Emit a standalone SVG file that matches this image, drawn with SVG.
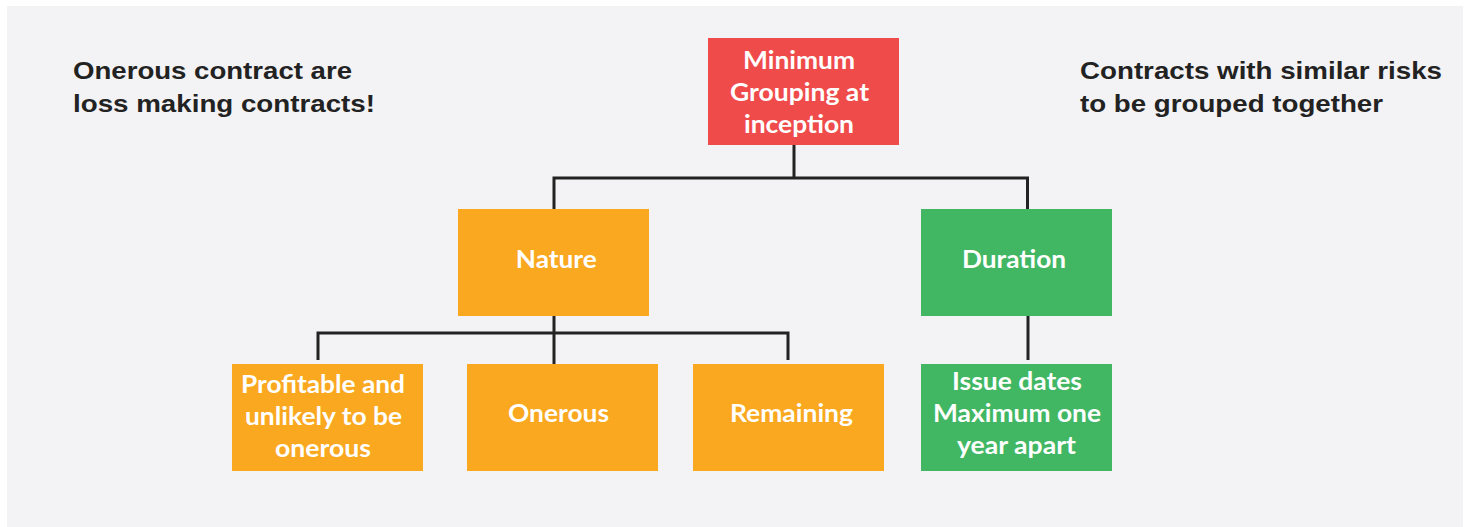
<svg xmlns="http://www.w3.org/2000/svg" width="1472" height="527" viewBox="0 0 1472 527">
<style>
.bx{font-family:Lato,"Open Sans",sans-serif;font-weight:700;font-size:24.5px;fill:#fff;text-anchor:middle}
.side{font-family:"Liberation Sans",Arial,sans-serif;font-weight:700;font-size:24.5px;fill:#222}
.ln{stroke:#222;stroke-width:3;fill:none}
.red{fill:#F04B4B}.org{fill:#FAA820}.grn{fill:#41B764}
</style>
<rect x="0" y="0" width="1472" height="527" fill="#fff"/>
<rect x="7" y="6" width="1456" height="521" fill="#F3F3F5"/>
<text class="side" x="73" y="79" textLength="279" lengthAdjust="spacingAndGlyphs">Onerous contract are</text>
<text class="side" x="73" y="112" textLength="302" lengthAdjust="spacingAndGlyphs">loss making contracts!</text>
<text class="side" x="1080" y="79" textLength="362" lengthAdjust="spacingAndGlyphs">Contracts with similar risks</text>
<text class="side" x="1080" y="112" textLength="303" lengthAdjust="spacingAndGlyphs">to be grouped together</text>
<g id="connectors">
<path class="ln" d="M794,145 V178 M554,178 H1027.5 M554,176.5 V209 M1027.5,176.5 V209"/>
<path class="ln" d="M554,316 V364 M318,333 H788 M318,331.5 V360 M788,331.5 V360"/>
<path class="ln" d="M1028,316 V360"/>
</g>
<g id="root"><rect class="red" x="708" y="38" width="191" height="107"/>
<text class="bx" x="799" y="69" textLength="112" lengthAdjust="spacingAndGlyphs">Minimum</text><text class="bx" x="799.5" y="101" textLength="139" lengthAdjust="spacingAndGlyphs">Grouping at</text><text class="bx" x="799" y="133" textLength="110" lengthAdjust="spacingAndGlyphs">inception</text></g>
<g id="nature"><rect class="org" x="458" y="209" width="191" height="107"/>
<text class="bx" x="556.3" y="268" textLength="81" lengthAdjust="spacingAndGlyphs">Nature</text></g>
<g id="duration"><rect class="grn" x="921" y="209" width="191" height="107"/>
<text class="bx" x="1014" y="268" textLength="104" lengthAdjust="spacingAndGlyphs">Duration</text></g>
<g id="profitable"><rect class="org" x="232" y="364" width="191" height="107"/>
<text class="bx" x="323" y="393" textLength="164" lengthAdjust="spacingAndGlyphs">Profitable and</text><text class="bx" x="323.5" y="425" textLength="157" lengthAdjust="spacingAndGlyphs">unlikely to be</text><text class="bx" x="323" y="457" textLength="96" lengthAdjust="spacingAndGlyphs">onerous</text></g>
<g id="onerous"><rect class="org" x="467" y="364" width="191" height="107"/>
<text class="bx" x="558.5" y="422" textLength="101" lengthAdjust="spacingAndGlyphs">Onerous</text></g>
<g id="remaining"><rect class="org" x="693" y="364" width="191" height="107"/>
<text class="bx" x="791.5" y="422" textLength="123" lengthAdjust="spacingAndGlyphs">Remaining</text></g>
<g id="issue"><rect class="grn" x="921" y="364" width="191" height="107"/>
<text class="bx" x="1017" y="390" textLength="130" lengthAdjust="spacingAndGlyphs">Issue dates</text><text class="bx" x="1017" y="422" textLength="168" lengthAdjust="spacingAndGlyphs">Maximum one</text><text class="bx" x="1016.5" y="454" textLength="119" lengthAdjust="spacingAndGlyphs">year apart</text></g>
</svg>
